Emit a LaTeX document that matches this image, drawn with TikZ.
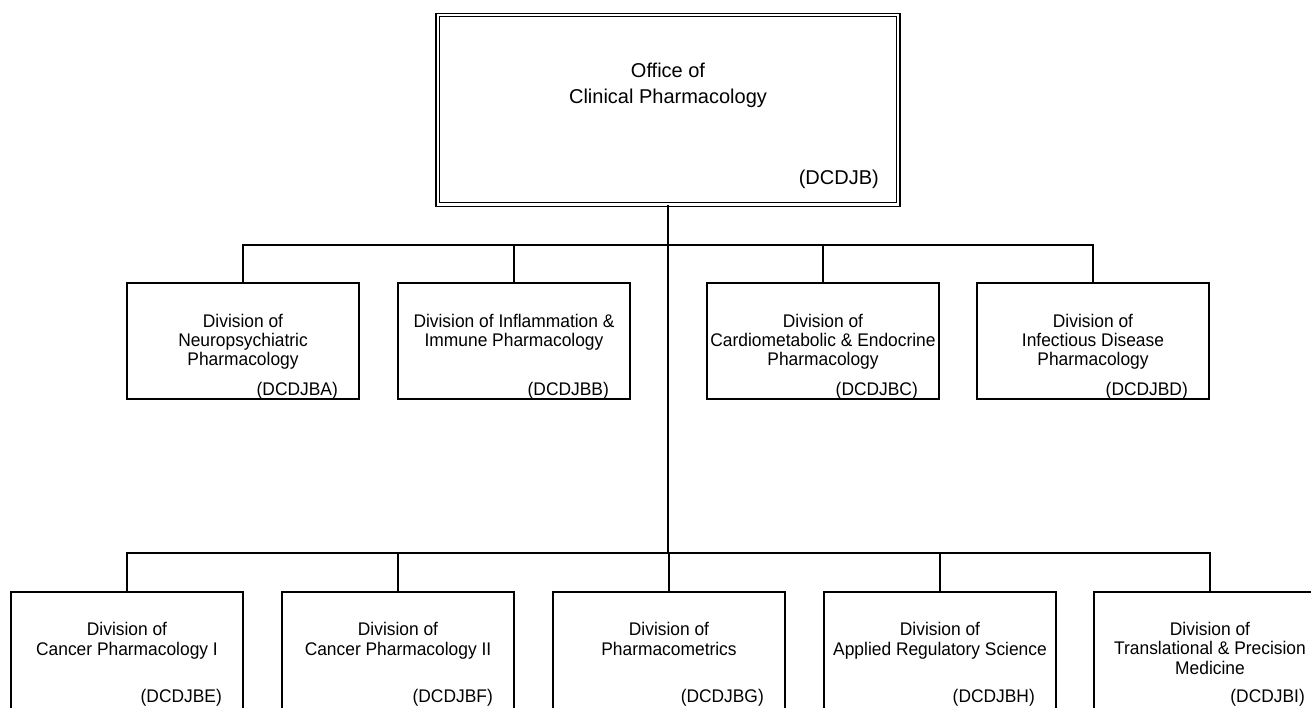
\documentclass[tikz,border=0pt]{standalone}
\usepackage{fontspec}
\setmainfont{Liberation Sans}
\newfontfamily\divfont[FakeStretch=0.95]{Liberation Sans}
\begin{document}
\begin{tikzpicture}[x=1pt,y=-1pt,
  box/.style={draw, line width=1.8pt, inner sep=0pt, minimum width=232pt, minimum height=116pt},
  lowbox/.style={box, minimum height=130pt},
  topbox/.style={draw, double, double distance=2.2pt, line width=1.3pt, inner sep=0pt, minimum width=460.5pt, minimum height=189.5pt},
  txt/.style={font=\divfont\fontsize{18.3pt}{19.5pt}\selectfont, align=center, inner sep=0pt, anchor=base},
  toptxt/.style={txt, font=\fontsize{20pt}{25.5pt}\selectfont},
  code/.style={font=\divfont\fontsize{18.3pt}{19.5pt}\selectfont, inner sep=0pt, anchor=base east},
  topcode/.style={code, font=\fontsize{20pt}{24pt}\selectfont},
  link/.style={line width=1.8pt}]
\useasboundingbox (0,0) rectangle (1311,708);
\clip (0,0) rectangle (1311,708);
\fill[white] (0,0) rectangle (1311,708);

% top box
\node[topbox] (top) at (668,109.75) {};
\node[toptxt] (ttop) at (668,103.5) {Office of\\Clinical Pharmacology};
\node[topcode] (ctop) at (879,185) {(DCDJB)};

% junctions
\coordinate (j1) at (668,245);
\coordinate (j2) at (668,553);

% row 1
\node[box] (A) at (243,341) {};
\node[box] (B) at (514,341) {};
\node[box] (C) at (823,341) {};
\node[box] (D) at (1093,341) {};
\node[txt] (tA) at (243,366) {Division of\\Neuropsychiatric\\Pharmacology};
\node[txt] (tB) at (514,346.5) {Division of Inflammation \&\\Immune Pharmacology};
\node[txt] (tC) at (823,366) {Division of\\Cardiometabolic \& Endocrine\\Pharmacology};
\node[txt] (tD) at (1093,366) {Division of\\Infectious Disease\\Pharmacology};
\node[code] (cA) at (338,395) {(DCDJBA)};
\node[code] (cB) at (609,395) {(DCDJBB)};
\node[code] (cC) at (918,395) {(DCDJBC)};
\node[code] (cD) at (1188,395) {(DCDJBD)};

% row 2
\node[lowbox] (E) at (127,657) {};
\node[lowbox] (F) at (398,657) {};
\node[lowbox] (G) at (669,657) {};
\node[lowbox] (H) at (940,657) {};
\node[lowbox] (I) at (1210,657) {};
\node[txt] (tE) at (127,655) {Division of\\Cancer Pharmacology I};
\node[txt] (tF) at (398,655) {Division of\\Cancer Pharmacology II};
\node[txt] (tG) at (669,655) {Division of\\Pharmacometrics};
\node[txt] (tH) at (940,655) {Division of\\Applied Regulatory Science};
\node[txt] (tI) at (1210,674) {Division of\\Translational \& Precision\\Medicine};
\node[code] (cE) at (222,702) {(DCDJBE)};
\node[code] (cF) at (493,702) {(DCDJBF)};
\node[code] (cG) at (764,702) {(DCDJBG)};
\node[code] (cH) at (1035,702) {(DCDJBH)};
\node[code] (cI) at (1305,702) {(DCDJBI)};

% connectors
\draw[link] (top.south) -- (j2);
\foreach \n in {A,B,C,D} \draw[link] (\n.north) |- (j1);
\foreach \n in {E,F,G,H,I} \draw[link] (\n.north) |- (j2);
\end{tikzpicture}
\end{document}
